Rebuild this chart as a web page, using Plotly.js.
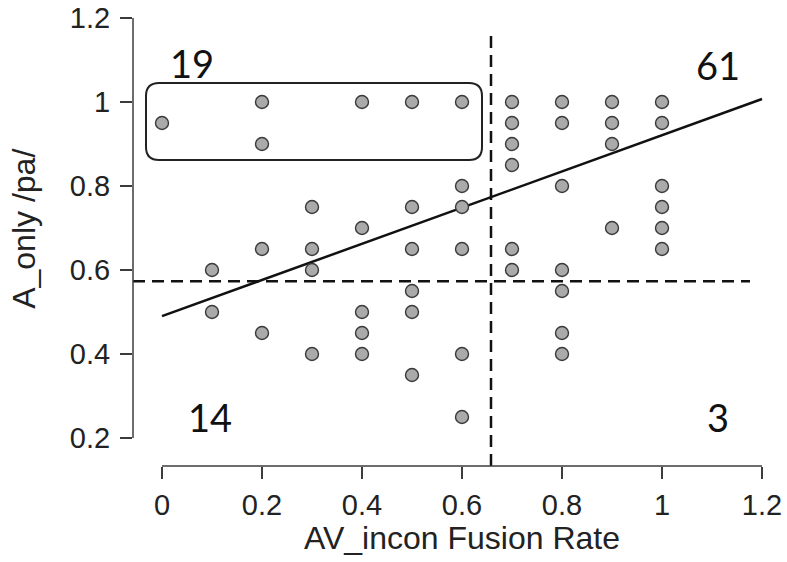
<!DOCTYPE html>
<html>
<head>
<meta charset="utf-8">
<script src="https://cdn.plot.ly/plotly-3.0.1.min.js"></script>
<style>html,body{margin:0;padding:0;background:#fff;}#chart{width:787px;height:562px;}</style>
</head>
<body>
<div id="chart"></div>
<script>
// Scatter points (AV_incon fusion rate vs A_only /pa/)
var xVals = [
  0,
  0.1, 0.1,
  0.2, 0.2, 0.2, 0.2,
  0.3, 0.3, 0.3, 0.3,
  0.4, 0.4, 0.4, 0.4, 0.4,
  0.5, 0.5, 0.5, 0.5, 0.5, 0.5,
  0.6, 0.6, 0.6, 0.6, 0.6, 0.6,
  0.7, 0.7, 0.7, 0.7, 0.7, 0.7,
  0.8, 0.8, 0.8, 0.8, 0.8, 0.8, 0.8,
  0.9, 0.9, 0.9, 0.9,
  1.0, 1.0, 1.0, 1.0, 1.0, 1.0
];
var yVals = [
  0.95,
  0.6, 0.5,
  1.0, 0.9, 0.65, 0.45,
  0.75, 0.65, 0.6, 0.4,
  1.0, 0.7, 0.5, 0.45, 0.4,
  1.0, 0.75, 0.65, 0.55, 0.5, 0.35,
  1.0, 0.8, 0.75, 0.65, 0.4, 0.25,
  1.0, 0.95, 0.9, 0.85, 0.65, 0.6,
  1.0, 0.95, 0.8, 0.6, 0.55, 0.45, 0.4,
  1.0, 0.95, 0.9, 0.7,
  1.0, 0.95, 0.8, 0.75, 0.7, 0.65
];
// Fitted regression line
var fitX = [0, 1.2];
var fitY = [0.49, 1.007];
// Median split lines
var xSplit = 0.658;
var ySplit = 0.573;
// Quadrant counts
var quadLabels = ['19', '61', '14', '3'];
var quadX = [0.06, 1.112, 0.096, 1.112];
var quadY = [1.092, 1.088, 0.25, 0.25];
// Tick labels
var xTicks = [0, 0.2, 0.4, 0.6, 0.8, 1, 1.2];
var xTickText = ['0', '0.2', '0.4', '0.6', '0.8', '1', '1.2'];
var yTicks = [0.2, 0.4, 0.6, 0.8, 1, 1.2];
var yTickText = ['0.2', '0.4', '0.6', '0.8', '1', '1.2'];

var axisColor = '#3c3c3c';
var tickFont = {family: 'Liberation Sans, Arial, sans-serif', size: 29, color: '#222'};
var titleFont = {family: 'Liberation Sans, Arial, sans-serif', size: 32, color: '#222'};

// rounded rectangle around top-left cluster
function roundRect(x0, x1, y0, y1, rx, ry) {
  return 'M' + (x0 + rx) + ',' + y1 +
    ' L' + (x1 - rx) + ',' + y1 +
    ' Q' + x1 + ',' + y1 + ' ' + x1 + ',' + (y1 - ry) +
    ' L' + x1 + ',' + (y0 + ry) +
    ' Q' + x1 + ',' + y0 + ' ' + (x1 - rx) + ',' + y0 +
    ' L' + (x0 + rx) + ',' + y0 +
    ' Q' + x0 + ',' + y0 + ' ' + x0 + ',' + (y0 + ry) +
    ' L' + x0 + ',' + (y1 - ry) +
    ' Q' + x0 + ',' + y1 + ' ' + (x0 + rx) + ',' + y1 + ' Z';
}

var traces = [
  {
    x: fitX, y: fitY, type: 'scatter', mode: 'lines',
    line: {color: '#111', width: 2.5}, hoverinfo: 'skip', showlegend: false
  },
  {
    x: xVals, y: yVals, type: 'scatter', mode: 'markers',
    marker: {size: 13, color: '#aaaaaa', line: {color: '#3a3a3a', width: 1.4}},
    showlegend: false
  }
];

var annotations = quadLabels.map(function (t, i) {
  return {x: quadX[i], y: quadY[i], xref: 'x', yref: 'y', text: t, showarrow: false,
    font: {family: 'Lato, sans-serif', size: 38, color: '#111'}};
});
annotations.push({
  x: 0.6, xref: 'x', y: 0, yref: 'paper', yshift: -72, text: 'AV_incon Fusion Rate',
  showarrow: false, yanchor: 'middle', font: titleFont
});
annotations.push({
  xref: 'paper', x: 0, xshift: -109, yref: 'y', y: 0.698, text: 'A_only /pa/', showarrow: false,
  xanchor: 'center', yanchor: 'middle', textangle: -90, font: titleFont
});

var layout = {
  width: 787, height: 562,
  margin: {l: 133, r: 12, t: 10, b: 96},
  paper_bgcolor: '#fff', plot_bgcolor: '#fff',
  xaxis: {
    range: [-0.058, 1.226], showgrid: false, zeroline: false, showline: false,
    ticks: 'outside', ticklen: 12, tickwidth: 1.5, tickcolor: axisColor,
    tickvals: xTicks, ticktext: xTickText, tickfont: tickFont, ticklabelstandoff: 1
  },
  yaxis: {
    range: [0.1333, 1.219], showgrid: false, zeroline: false, showline: false,
    ticks: 'outside', ticklen: 12, tickwidth: 1.5, tickcolor: axisColor,
    tickvals: yTicks, ticktext: yTickText, tickfont: tickFont, ticklabelstandoff: 4
  },
  shapes: [
    {type: 'line', xref: 'x', yref: 'paper', x0: 0, x1: 1.2, y0: 0, y1: 0,
      line: {color: axisColor, width: 1.5}},
    {type: 'line', xref: 'paper', yref: 'y', x0: 0, x1: 0, y0: 0.2, y1: 1.2,
      line: {color: axisColor, width: 1.5}},
    {type: 'line', xref: 'x', yref: 'y', x0: xSplit, x1: xSplit, y0: 0.1333, y1: 1.167,
      line: {color: '#111', width: 2.5, dash: '12px,7px'}, layer: 'below'},
    {type: 'line', xref: 'x', yref: 'y', x0: -0.058, x1: 1.176, y0: ySplit, y1: ySplit,
      line: {color: '#111', width: 2.5, dash: '12px,7px'}, layer: 'below'},
    {type: 'path', xref: 'x', yref: 'y',
      path: roundRect(-0.032, 0.64, 0.862, 1.045, 0.026, 0.031),
      line: {color: '#222', width: 2}, layer: 'below'}
  ],
  annotations: annotations
};

Plotly.newPlot('chart', traces, layout, {displayModeBar: false, staticPlot: true});
</script>
</body>
</html>
